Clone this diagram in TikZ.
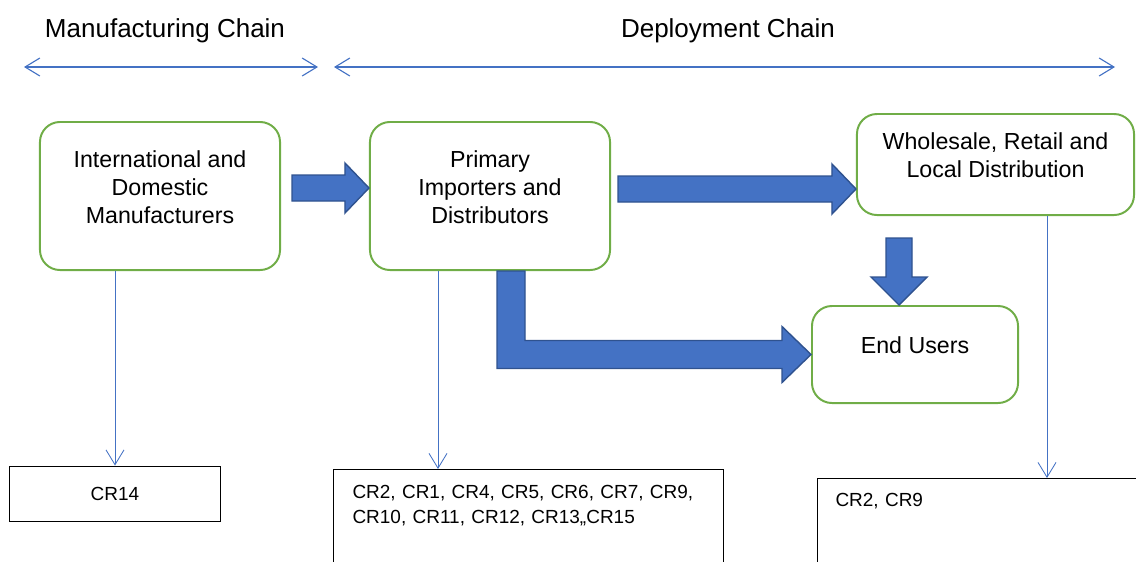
\documentclass[tikz,border=0pt]{standalone}
\usepackage{fontspec}
\setmainfont{Liberation Sans}
\usetikzlibrary{positioning,arrows.meta,calc}

\definecolor{fillblue}{HTML}{4472C4}
\definecolor{edgeblue}{HTML}{2F528F}
\definecolor{boxgreen}{HTML}{70AD47}

% block arrows: #1 tail, #2 tip
\newcommand{\fatright}[2]{%
  \filldraw[fatarrow] ($(#1)+(0,-13)$) -- ($(#2)+(-24,-13)$) -- ($(#2)+(-24,-25)$) -- (#2)
    -- ($(#2)+(-24,25)$) -- ($(#2)+(-24,13)$) -- ($(#1)+(0,13)$) -- cycle;}
\newcommand{\fatdown}[2]{%
  \filldraw[fatarrow] ($(#1)+(-13,0)$) -- ($(#2)+(-13,-28)$) -- ($(#2)+(-28,-28)$) -- (#2)
    -- ($(#2)+(28,-28)$) -- ($(#2)+(13,-28)$) -- ($(#1)+(13,0)$) -- cycle;}

\begin{document}
\begin{tikzpicture}[x=0.025cm, y=-0.025cm,
  stage/.style={draw=boxgreen, line width=1.4pt, rounded corners=0.5cm, align=center,
    fill=white, text depth=0.45cm, font=\fontsize{16.5}{20}\selectfont},
  crbox/.style={draw=black, line width=0.7pt, font=\fontsize{13.5}{17.5}\selectfont},
  fatarrow/.style={fill=fillblue, draw=edgeblue, line width=1pt},
  chainspan/.style={draw=fillblue, line width=0.8pt,
    {Straight Barb[length=3.7mm,width=4.5mm]}-{Straight Barb[length=3.7mm,width=4.5mm]}},
  crlink/.style={draw=fillblue, line width=0.6pt, -{Straight Barb[length=3.7mm,width=4.5mm]}}]
\clip (0,0) rectangle (1136,561);
% chain headings
\node[font=\fontsize{18.5}{22}\selectfont] (mfgtitle) at (165,31) {Manufacturing Chain};
\node[font=\fontsize{18.5}{22}\selectfont] (deptitle) at (728,31) {Deployment Chain};
\coordinate (mfgL) at (24,67);
\coordinate (mfgR) at (318,67);
\coordinate (depL) at (334,67);
\coordinate (depR) at (1115,67);
\draw[chainspan] (mfgL) -- (mfgR);
\draw[chainspan] (depL) -- (depR);
% stages
\node[stage, minimum width=6cm, minimum height=3.7cm] (mfr) at (160,196) {International and\\Domestic\\Manufacturers};
\node[stage, minimum width=6cm, minimum height=3.7cm] (imp) at (490,196) {Primary\\Importers and\\Distributors};
\node[stage, minimum width=6.925cm, minimum height=2.525cm] (whl) at (995.5,164.5) {Wholesale, Retail and\\Local Distribution};
\node[stage, minimum width=5.15cm, minimum height=2.425cm] (usr) at (915,354.5) {End Users};
% requirement boxes
\node[crbox, minimum width=5.25cm, minimum height=1.375cm] (cr14) at (115,493.5) {CR14};
\node[crbox, anchor=north west, align=left, text width=8.8cm, inner xsep=0.475cm, inner ysep=0.4cm,
  text depth=2cm] (crimp) at (333,469) {CR2, CR1, CR4, CR5, CR6, CR7, CR9,\\CR10, CR11, CR12, CR13,,CR15};
\node[crbox, anchor=north west, align=left, text width=7.2cm, inner xsep=0.45cm, inner ysep=0.38cm,
  text depth=2cm] (crwhl) at (817,478) {CR2, CR9};
% thin links down to the boxes
\coordinate (impfoot) at ($(imp.south)+(-52,0)$);
\coordinate (whlfoot) at ($(whl.south)+(51.5,0)$);
\draw[crlink] (cr14.north |- mfr.south) -- (cr14.north);
\draw[crlink] (impfoot) -- (impfoot |- crimp.north);
\draw[crlink] (whlfoot) -- (whlfoot |- crwhl.north);
% block arrows
\coordinate (a1tail) at (292,188);
\coordinate (a1tip) at (a1tail -| imp.west);
\coordinate (a2tail) at (618,189);
\coordinate (a2tip) at (a2tail -| whl.west);
\coordinate (a3tail) at (899,238);
\coordinate (a3tip) at (a3tail |- usr.north);
\fatright{a1tail}{a1tip}
\fatright{a2tail}{a2tip}
\fatdown{a3tail}{a3tip}
\coordinate (a4tail) at ($(imp.south)+(21,0)$);
\coordinate (a4tip) at (usr.west);
\coordinate (a4bend) at (a4tail |- a4tip);
\filldraw[fatarrow] ($(a4tail)+(-14,0)$) -- ($(a4bend)+(-14,14)$) -- ($(a4tip)+(-29,14)$) -- ($(a4tip)+(-29,28)$)
  -- (a4tip) -- ($(a4tip)+(-29,-28)$) -- ($(a4tip)+(-29,-14)$) -- ($(a4bend)+(14,-14)$) -- ($(a4tail)+(14,0)$) -- cycle;
\end{tikzpicture}
\end{document}
